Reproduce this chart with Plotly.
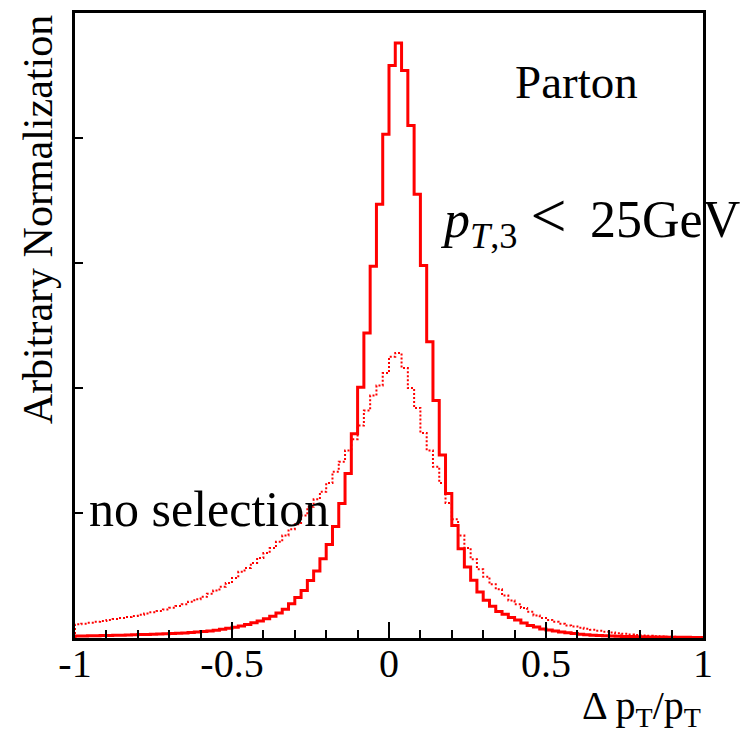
import numpy as np
import plotly.graph_objects as go

# 100 bins from -1 to 1 (width 0.02)
bin_edges = np.round(np.linspace(-1.0, 1.0, 101), 4)

# p_T,3 < 25 GeV (solid)
cut_values = [
    0.016, 0.017, 0.018, 0.019, 0.020, 0.021, 0.022, 0.023, 0.025, 0.026,
    0.028, 0.029, 0.031, 0.032, 0.034, 0.036, 0.038, 0.041, 0.044, 0.048,
    0.052, 0.057, 0.063, 0.070, 0.078, 0.087, 0.097, 0.108, 0.122, 0.137,
    0.155, 0.175, 0.200, 0.230, 0.275, 0.325, 0.380, 0.460, 0.536, 0.635,
    0.748, 0.892, 1.077, 1.316, 1.634, 2.006, 2.440, 2.975, 3.470, 4.030,
    4.580, 4.760, 4.540, 4.100, 3.550, 2.980, 2.370, 1.900, 1.465, 1.157,
    0.900, 0.714, 0.568, 0.462, 0.369, 0.303, 0.255, 0.212, 0.190, 0.165,
    0.145, 0.120, 0.100, 0.088, 0.072, 0.064, 0.056, 0.049, 0.042, 0.036,
    0.031, 0.027, 0.023, 0.020, 0.018, 0.016, 0.014, 0.013, 0.012, 0.011,
    0.010, 0.009, 0.008, 0.008, 0.007, 0.007, 0.006, 0.006, 0.005, 0.005,
]

# no selection (dotted)
nosel_values = [
    0.110, 0.115, 0.122, 0.130, 0.137, 0.145, 0.152, 0.160, 0.168, 0.177,
    0.186, 0.196, 0.206, 0.217, 0.229, 0.242, 0.256, 0.270, 0.290, 0.310,
    0.330, 0.355, 0.380, 0.410, 0.440, 0.480, 0.530, 0.560, 0.600, 0.640,
    0.680, 0.720, 0.770, 0.820, 0.870, 0.910, 0.980, 1.050, 1.110, 1.170,
    1.240, 1.330, 1.410, 1.500, 1.590, 1.700, 1.820, 1.940, 2.020, 2.120,
    2.250, 2.280, 2.160, 2.000, 1.840, 1.640, 1.500, 1.370, 1.240, 1.080,
    0.950, 0.820, 0.720, 0.630, 0.550, 0.490, 0.430, 0.390, 0.340, 0.300,
    0.270, 0.240, 0.210, 0.180, 0.160, 0.145, 0.130, 0.115, 0.100, 0.092,
    0.083, 0.074, 0.066, 0.058, 0.051, 0.045, 0.039, 0.034, 0.029, 0.025,
    0.021, 0.018, 0.015, 0.013, 0.011, 0.010, 0.009, 0.008, 0.007, 0.006,
]

x_tick_vals = [-1, -0.5, 0, 0.5, 1]
x_tick_text = ["-1", "-0.5", "0", "0.5", "1"]
y_tick_vals = [1, 2, 3, 4]


def step_xy(edges, vals):
    xs = [edges[0]] + list(edges[:-1]) + [edges[-1], edges[-1]]
    ys = [0] + list(vals) + [vals[-1], 0]
    return xs, ys


fig = go.Figure()
xs, ys = step_xy(bin_edges, nosel_values)
fig.add_trace(go.Scatter(x=xs, y=ys, mode="lines", line_shape="hv",
                         line=dict(color="#ff0000", width=2, dash="2px,2px"),
                         showlegend=False, hoverinfo="skip"))
xs, ys = step_xy(bin_edges, cut_values)
fig.add_trace(go.Scatter(x=xs, y=ys, mode="lines", line_shape="hv",
                         line=dict(color="#ff0000", width=3),
                         showlegend=False, hoverinfo="skip"))

serif = "Liberation Serif"

fig.update_layout(
    width=743, height=728,
    margin=dict(l=67, r=48, t=2, b=98),
    paper_bgcolor="white", plot_bgcolor="white",
    font=dict(family=serif, color="black"),
    xaxis=dict(range=[-1, 1], showgrid=False, zeroline=False,
               showline=True, linecolor="black", linewidth=3, mirror=True,
               ticks="inside", ticklen=16, tickwidth=2, tickcolor="black",
               tickvals=x_tick_vals, ticktext=x_tick_text,
               ticklabelstandoff=-12,
               tickfont=dict(family=serif, size=40, color="black"),
               minor=dict(ticks="inside", ticklen=8, tickwidth=2,
                          tickcolor="black", dtick=0.1, showgrid=False)),
    yaxis=dict(range=[0, 5], showgrid=False, zeroline=False,
               showline=True, linecolor="black", linewidth=3, mirror=True,
               ticks="inside", ticklen=8, tickwidth=2, tickcolor="black",
               tickvals=y_tick_vals, showticklabels=False),
    annotations=[
        dict(text="Arbitrary Normalization", xref="paper", yref="paper",
             x=-0.059, y=0.670, xanchor="center", yanchor="middle",
             textangle=-90, showarrow=False,
             font=dict(family=serif, size=42, color="black")),
        dict(text="Parton", xref="paper", yref="paper",
             x=0.799, y=0.889, xanchor="center", yanchor="middle",
             showarrow=False, font=dict(family=serif, size=47, color="black")),
        dict(text="<i>p</i><sub><i>T</i>,3</sub>&nbsp;<span style=\"font-size:64px\">&lt;</span>&nbsp;&#8201;25GeV",
             xref="paper", yref="paper",
             x=0.578, y=0.672, xanchor="left", yanchor="middle",
             showarrow=False, font=dict(family=serif, size=52, color="black")),
        dict(text="no selection", xref="paper", yref="paper",
             x=0.0186, y=0.207, xanchor="left", yanchor="middle",
             showarrow=False, font=dict(family=serif, size=50, color="black")),
        dict(text="Δ p<sub>T</sub>/p<sub>T</sub>", xref="paper", yref="paper",
             x=1.0, y=-0.112, xanchor="right", yanchor="middle",
             showarrow=False, font=dict(family=serif, size=40, color="black")),
    ],
)

fig.write_html("out.html")
